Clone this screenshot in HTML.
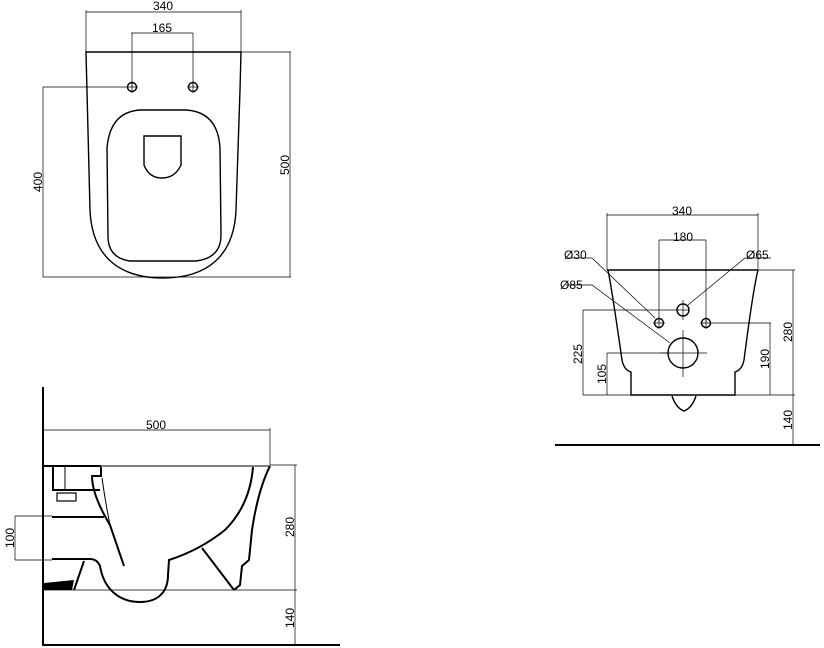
<!DOCTYPE html>
<html><head><meta charset="utf-8"><style>
html,body{margin:0;padding:0;background:#fff;}
svg{display:block;}
text{font-family:"Liberation Sans",sans-serif;font-size:12px;fill:#000;}
</style></head><body>
<svg width="824" height="648" viewBox="0 0 824 648" xmlns="http://www.w3.org/2000/svg">
<g fill="none" stroke="#000">
<!-- TOP VIEW -->
<g stroke-width="0.7">
<line x1="86" y1="12" x2="241" y2="12"/><line x1="86" y1="10" x2="86" y2="52"/><line x1="241" y1="10" x2="241" y2="52"/>
<line x1="131" y1="33" x2="193" y2="33"/><line x1="132" y1="33" x2="132" y2="87"/><line x1="193" y1="33" x2="193" y2="87"/>
<line x1="43" y1="87" x2="128" y2="87"/><line x1="43" y1="87" x2="43" y2="277"/><line x1="43" y1="277" x2="165" y2="277"/>
<line x1="241" y1="52" x2="291" y2="52"/><line x1="290" y1="52" x2="290" y2="277"/><line x1="165" y1="277" x2="291" y2="277"/>
<line x1="126" y1="87" x2="138" y2="87"/><line x1="187" y1="87" x2="199" y2="87"/>
<line x1="193" y1="81" x2="193" y2="93"/><line x1="132" y1="81" x2="132" y2="93"/>
</g>
<g stroke-width="1.4">
<path d="M86 52 L241 52 L240 90 L236 210 C234 258 205 278 163 278 C121 278 92 258 90 210 Z"/>
<path d="M140 110 L186 110 Q218 112 220 148 L221 235 Q221 258 196 261 L130 261 Q108 258 108 236 L107 148 Q110 112 140 110 Z"/>
<path d="M144 136 L181 136 L181 165 Q175 178 162 178 Q149 178 144 165 Z"/>
<circle cx="132" cy="87" r="4.5"/><circle cx="193" cy="87" r="4.5"/>
</g>

<!-- SIDE VIEW -->
<g stroke-width="0.7">
<line x1="43" y1="430" x2="270" y2="430"/><line x1="270" y1="428" x2="270" y2="465"/>
<line x1="270" y1="465" x2="297" y2="465"/><line x1="295" y1="465" x2="295" y2="645"/>
<line x1="44" y1="590" x2="297" y2="590"/>
<line x1="15" y1="516" x2="52" y2="516"/><line x1="15" y1="560" x2="52" y2="560"/><line x1="15" y1="516" x2="15" y2="560"/>
</g>
<line x1="43" y1="387" x2="43" y2="646" stroke-width="2"/>
<line x1="43" y1="645" x2="340" y2="645" stroke-width="2"/>
<line x1="43" y1="466" x2="270" y2="466" stroke-width="1"/>
<g stroke-width="2">
<line x1="44" y1="466" x2="101" y2="466"/>
<path d="M53 467 L53 490 L100 490"/>
<line x1="65" y1="467" x2="65" y2="490" stroke-width="1"/>
<rect x="57" y="493" width="19" height="8" stroke-width="1.2"/>
<line x1="52" y1="517" x2="104" y2="517"/>
<path d="M52 559 L90 559 Q97 559 100 566 C104 590 120 602 140 602 C160 602 168 590 168 575 L169 560 Q200 550 225 530 Q250 505 253 467"/>
<path d="M101 467 L101 476 L92 476 Q92 495 110 525 L124 566"/>
<path d="M102 478 Q105 500 110 525" stroke-width="1"/>
<path d="M270 466 Q258 490 252 530 L249 560 L242 566 L240 585 L234 590"/>
<line x1="202" y1="548" x2="234" y2="590"/>
<line x1="84" y1="561" x2="74" y2="590"/>
</g>
<polygon points="44,583 74,580 72,590 44,590" fill="#000" stroke="none"/>

<!-- FRONT VIEW -->
<g stroke-width="0.7">
<line x1="607" y1="215" x2="758" y2="215"/><line x1="607" y1="213" x2="607" y2="270"/><line x1="758" y1="213" x2="758" y2="270"/>
<line x1="659" y1="240" x2="706" y2="240"/><line x1="659" y1="240" x2="659" y2="323"/><line x1="706" y1="240" x2="706" y2="323"/>
<line x1="758" y1="270" x2="795" y2="270"/><line x1="793" y1="270" x2="793" y2="445"/>
<line x1="583" y1="310" x2="679" y2="310"/><line x1="583" y1="310" x2="583" y2="395"/>
<line x1="607" y1="353" x2="670" y2="353"/><line x1="607" y1="353" x2="607" y2="395"/>
<line x1="712" y1="323" x2="771" y2="323"/><line x1="770" y1="323" x2="770" y2="395"/>
<line x1="583" y1="395" x2="795" y2="395"/>
<path d="M566 258 L592 258 L655 318"/>
<path d="M771 258 L745 258 L688 305"/>
<path d="M566 285 L592 285 L670 343"/>
<line x1="677" y1="310" x2="689" y2="310"/><line x1="683" y1="300" x2="683" y2="320"/>
<line x1="653" y1="323" x2="665" y2="323"/><line x1="659" y1="317" x2="659" y2="329"/>
<line x1="700" y1="323" x2="712" y2="323"/><line x1="706" y1="317" x2="706" y2="329"/>
<line x1="660" y1="353" x2="707" y2="353"/><line x1="683" y1="330" x2="683" y2="377"/>
</g>
<g stroke-width="1.4">
<line x1="607" y1="270" x2="758" y2="270"/>
<path d="M608 270 Q612 290 622 360 Q624 370 631 372 L631 395 L735 395 L735 372 Q742 370 744 360 Q753 290 758 270"/>
<path d="M672 396 Q676 408 684 411 Q692 408 696 396"/>
<circle cx="683" cy="310" r="6"/>
<circle cx="659" cy="323" r="4.5"/><circle cx="706" cy="323" r="4.5"/>
<circle cx="683" cy="353" r="15"/>
</g>
<line x1="555" y1="445" x2="820" y2="445" stroke-width="2"/>
</g>

<g>
<text x="163" y="10" text-anchor="middle">340</text>
<text x="162" y="32" text-anchor="middle">165</text>
<text transform="translate(42,182) rotate(-90)" text-anchor="middle">400</text>
<text transform="translate(289,165) rotate(-90)" text-anchor="middle">500</text>
<text x="156" y="429" text-anchor="middle">500</text>
<text transform="translate(294,527) rotate(-90)" text-anchor="middle">280</text>
<text transform="translate(294,618) rotate(-90)" text-anchor="middle">140</text>
<text transform="translate(14,538) rotate(-90)" text-anchor="middle">100</text>
<text x="682" y="215" text-anchor="middle">340</text>
<text x="683" y="241" text-anchor="middle">180</text>
<text x="564" y="259">Ø30</text>
<text x="746" y="259">Ø65</text>
<text x="560" y="289">Ø85</text>
<text transform="translate(792,332) rotate(-90)" text-anchor="middle">280</text>
<text transform="translate(792,420) rotate(-90)" text-anchor="middle">140</text>
<text transform="translate(582,354) rotate(-90)" text-anchor="middle">225</text>
<text transform="translate(606,374) rotate(-90)" text-anchor="middle">105</text>
<text transform="translate(769,359) rotate(-90)" text-anchor="middle">190</text>
</g>
</svg>
</body></html>
